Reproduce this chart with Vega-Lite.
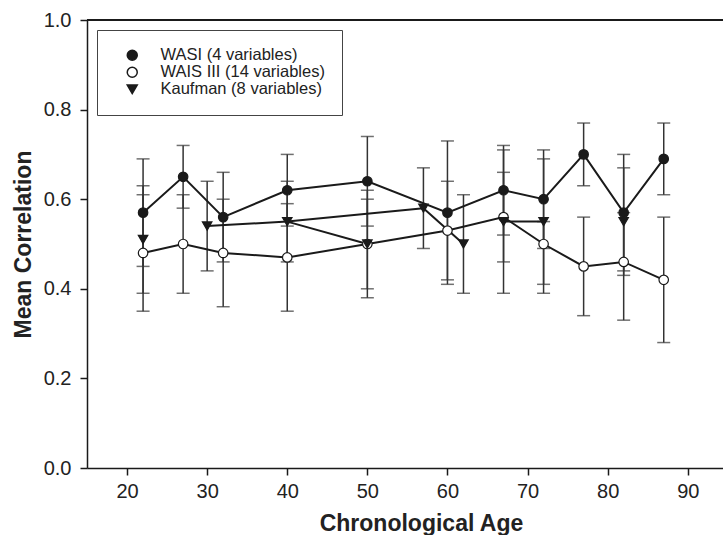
{
  "$schema": "https://vega.github.io/schema/vega-lite/v6.json",
  "width": 636,
  "height": 448,
  "autosize": {"type": "none"},
  "padding": {"left": 87, "top": 20, "right": 0, "bottom": 67},
  "background": "white",
  "config": {
    "view": {"stroke": null},
    "font": "Liberation Sans",
    "axis": {
      "domainColor": "#1a1a1a", "domainWidth": 1.5,
      "tickColor": "#1a1a1a", "tickWidth": 1.5, "tickSize": 7,
      "grid": false,
      "labelFont": "Liberation Sans", "labelFontSize": 20, "labelColor": "#222222",
      "titleFont": "Liberation Sans", "titleFontSize": 23, "titleFontWeight": "bold", "titleColor": "#222222"
    },
    "axisX": {"labelPadding": 6, "titlePadding": 11},
    "axisY": {"labelPadding": 9, "titlePadding": 8}
  },
  "datasets": {
    "main": [
      {"series": "WASI (4 variables)", "age": 22, "r": 0.57, "lo": 0.45, "hi": 0.69},
      {"series": "WASI (4 variables)", "age": 27, "r": 0.65, "lo": 0.58, "hi": 0.72},
      {"series": "WASI (4 variables)", "age": 32, "r": 0.56, "lo": 0.46, "hi": 0.66},
      {"series": "WASI (4 variables)", "age": 40, "r": 0.62, "lo": 0.54, "hi": 0.70},
      {"series": "WASI (4 variables)", "age": 50, "r": 0.64, "lo": 0.54, "hi": 0.74},
      {"series": "WASI (4 variables)", "age": 60, "r": 0.57, "lo": 0.41, "hi": 0.73},
      {"series": "WASI (4 variables)", "age": 67, "r": 0.62, "lo": 0.52, "hi": 0.72},
      {"series": "WASI (4 variables)", "age": 72, "r": 0.60, "lo": 0.49, "hi": 0.71},
      {"series": "WASI (4 variables)", "age": 77, "r": 0.70, "lo": 0.63, "hi": 0.77},
      {"series": "WASI (4 variables)", "age": 82, "r": 0.57, "lo": 0.44, "hi": 0.70},
      {"series": "WASI (4 variables)", "age": 87, "r": 0.69, "lo": 0.61, "hi": 0.77},
      {"series": "WAIS III (14 variables)", "age": 22, "r": 0.48, "lo": 0.35, "hi": 0.61},
      {"series": "WAIS III (14 variables)", "age": 27, "r": 0.50, "lo": 0.39, "hi": 0.61},
      {"series": "WAIS III (14 variables)", "age": 32, "r": 0.48, "lo": 0.36, "hi": 0.60},
      {"series": "WAIS III (14 variables)", "age": 40, "r": 0.47, "lo": 0.35, "hi": 0.59},
      {"series": "WAIS III (14 variables)", "age": 50, "r": 0.50, "lo": 0.38, "hi": 0.62},
      {"series": "WAIS III (14 variables)", "age": 60, "r": 0.53, "lo": 0.42, "hi": 0.64},
      {"series": "WAIS III (14 variables)", "age": 67, "r": 0.56, "lo": 0.39, "hi": 0.71},
      {"series": "WAIS III (14 variables)", "age": 72, "r": 0.50, "lo": 0.39, "hi": 0.55},
      {"series": "WAIS III (14 variables)", "age": 77, "r": 0.45, "lo": 0.34, "hi": 0.56},
      {"series": "WAIS III (14 variables)", "age": 82, "r": 0.46, "lo": 0.33, "hi": 0.57},
      {"series": "WAIS III (14 variables)", "age": 87, "r": 0.42, "lo": 0.28, "hi": 0.56},
      {"series": "Kaufman (8 variables)", "age": 22, "r": 0.51, "lo": 0.39, "hi": 0.63},
      {"series": "Kaufman (8 variables)", "age": 30, "r": 0.54, "lo": 0.44, "hi": 0.64},
      {"series": "Kaufman (8 variables)", "age": 40, "r": 0.55, "lo": 0.46, "hi": 0.64},
      {"series": "Kaufman (8 variables)", "age": 50, "r": 0.50, "lo": 0.40, "hi": 0.60},
      {"series": "Kaufman (8 variables)", "age": 57, "r": 0.58, "lo": 0.49, "hi": 0.67},
      {"series": "Kaufman (8 variables)", "age": 62, "r": 0.50, "lo": 0.39, "hi": 0.61},
      {"series": "Kaufman (8 variables)", "age": 67, "r": 0.55, "lo": 0.46, "hi": 0.66},
      {"series": "Kaufman (8 variables)", "age": 72, "r": 0.55, "lo": 0.41, "hi": 0.69},
      {"series": "Kaufman (8 variables)", "age": 82, "r": 0.55, "lo": 0.43, "hi": 0.67}
    ],
    "klines": [
      {"seg": "K1", "age": 30, "r": 0.54},
      {"seg": "K1", "age": 40, "r": 0.55},
      {"seg": "K1", "age": 57, "r": 0.58},
      {"seg": "K2", "age": 40, "r": 0.55},
      {"seg": "K2", "age": 50, "r": 0.50},
      {"seg": "K3", "age": 57, "r": 0.58},
      {"seg": "K3", "age": 62, "r": 0.50},
      {"seg": "K4", "age": 67, "r": 0.55},
      {"seg": "K4", "age": 72, "r": 0.55}
    ]
  },
  "data": {"name": "main"},
  "layer": [
    {
      "mark": {"type": "rule", "color": "#333333", "strokeWidth": 1.5},
      "encoding": {
        "x": {"field": "age", "type": "quantitative", "scale": {"domain": [15, 94.4], "nice": false, "zero": false},
              "axis": {"values": [20, 30, 40, 50, 60, 70, 80, 90], "title": "Chronological Age", "titleX": 334}},
        "y": {"field": "lo", "type": "quantitative", "scale": {"domain": [0, 1], "nice": false},
              "axis": {"values": [0, 0.2, 0.4, 0.6, 0.8, 1.0], "format": ".1f", "title": "Mean Correlation"}},
        "y2": {"field": "hi"}
      }
    },
    {
      "mark": {"type": "tick", "orient": "horizontal", "size": 13, "thickness": 1.5, "color": "#333333"},
      "encoding": {
        "x": {"field": "age", "type": "quantitative"},
        "y": {"field": "lo", "type": "quantitative", "title": "Mean Correlation"}
      }
    },
    {
      "mark": {"type": "tick", "orient": "horizontal", "size": 13, "thickness": 1.5, "color": "#333333"},
      "encoding": {
        "x": {"field": "age", "type": "quantitative"},
        "y": {"field": "hi", "type": "quantitative", "title": "Mean Correlation"}
      }
    },
    {
      "transform": [{"filter": "datum.series !== 'Kaufman (8 variables)'"}],
      "mark": {"type": "line", "color": "#1a1a1a", "strokeWidth": 2},
      "encoding": {
        "x": {"field": "age", "type": "quantitative"},
        "y": {"field": "r", "type": "quantitative", "title": "Mean Correlation"},
        "detail": {"field": "series", "type": "nominal"}
      }
    },
    {
      "data": {"name": "klines"},
      "mark": {"type": "line", "color": "#1a1a1a", "strokeWidth": 2},
      "encoding": {
        "x": {"field": "age", "type": "quantitative"},
        "y": {"field": "r", "type": "quantitative", "title": "Mean Correlation"},
        "detail": {"field": "seg", "type": "nominal"}
      }
    },
    {
      "mark": {"type": "rule", "color": "#1a1a1a", "strokeWidth": 2},
      "encoding": {
        "y": {"datum": 1, "type": "quantitative", "title": "Mean Correlation"}
      }
    },
    {
      "mark": {"type": "point", "filled": true, "size": 90, "stroke": "#1a1a1a", "strokeWidth": 1.2, "opacity": 1},
      "encoding": {
        "x": {"field": "age", "type": "quantitative"},
        "y": {"field": "r", "type": "quantitative", "title": "Mean Correlation"},
        "shape": {
          "field": "series", "type": "nominal",
          "scale": {"domain": ["WASI (4 variables)", "WAIS III (14 variables)", "Kaufman (8 variables)"], "range": ["circle", "circle", "triangle-down"]},
          "legend": {
            "title": null, "orient": "top-left", "offset": 10, "padding": 17,
            "strokeColor": "#444444", "fillColor": "white",
            "labelFont": "Liberation Sans", "labelFontSize": 16.5, "labelColor": "#222222", "labelLimit": 400,
            "symbolSize": 100, "symbolOffset": 10, "labelOffset": 20, "rowPadding": -0.5,
            "encode": {
              "legend": {"update": {"strokeWidth": {"value": 1.2}}},
              "symbols": {
                "update": {
                  "fill": {"signal": "datum.value === 'WAIS III (14 variables)' ? '#ffffff' : '#1a1a1a'"},
                  "stroke": {"value": "#1a1a1a"},
                  "strokeWidth": {"value": 1.5},
                  "opacity": {"value": 1}
                }
              }
            }
          }
        },
        "fill": {
          "field": "series", "type": "nominal",
          "scale": {"domain": ["WASI (4 variables)", "WAIS III (14 variables)", "Kaufman (8 variables)"], "range": ["#1a1a1a", "#ffffff", "#1a1a1a"]},
          "legend": null
        }
      }
    }
  ]
}
